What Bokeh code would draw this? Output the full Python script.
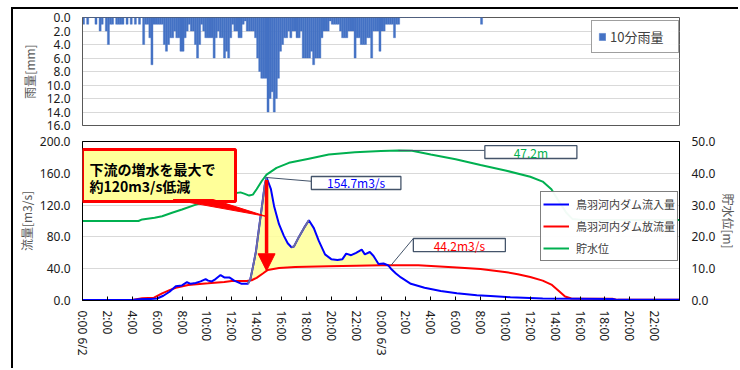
import math
import numpy as np
from bokeh.plotting import figure
from bokeh.layouts import column
from bokeh.models import (Range1d, LinearAxis, FixedTicker, NumeralTickFormatter, Legend,
                          LegendItem, Label, BoxAnnotation, Arrow, NormalHead)
from bokeh.embed import file_html
from bokeh.resources import INLINE

FONT = "Noto Sans CJK JP"
NUM_FONT = "Noto Sans"
TICK_COLOR = "#1a1a1a"
TITLE_COLOR = "#595959"
TAG_BORDER = "#44546a"

# 10-minute rainfall [mm], one value per interval starting 0:00 6/2
rain_mm = [1, 0, 1, 0, 0, 0, 1, 0, 2, 1,
           0, 2, 4, 1, 1, 0, 1, 1, 1, 1,
           0, 1, 0, 1, 0, 1, 0, 1, 0, 4,
           1, 1, 3, 7, 1, 1, 1, 1, 1, 4,
           5, 4, 3, 3, 2, 3, 3, 5, 5, 3,
           2, 1, 2, 2, 4, 6, 4, 1, 2, 3,
           3, 3, 3, 6, 3, 2, 3, 3, 6, 5,
           6, 3, 1, 2, 2, 3, 3, 1, 0.5, 2,
           2, 2, 2, 3, 6, 8, 9, 9, 9, 14,
           12, 11, 14, 12, 9, 5, 4, 3, 3, 2,
           3, 2, 2, 3, 3, 2, 6, 6, 6, 6,
           5, 7, 6, 6, 6, 3, 2, 2, 2, 0.5,
           1, 1, 1, 1, 2, 3, 3, 3, 2, 2,
           2, 6, 3, 3, 4, 4, 4, 3, 3, 6,
           2, 2, 2, 5, 2, 2, 1, 1, 1, 1,
           3, 1, 1, 0, 0, 0, 0, 0, 0, 0,
           0, 0, 0, 0, 0, 0, 0, 0, 0, 0,
           0, 0, 0, 0, 0, 0, 0, 0, 0, 0,
           0, 0, 0, 0, 0, 0, 0, 0, 0, 0,
           0, 0, 1]

# Dam inflow [m3/s] (hours from 0:00 6/2)
inflow_h = [0, 4.0, 4.5, 5.0, 5.5, 6.0, 6.5, 7.0, 7.5, 8.0, 8.4, 8.7, 9.1, 9.5, 9.9,
            10.1, 10.4, 10.7, 11.1, 11.4, 11.8, 12.2, 12.8, 13.3, 13.5, 13.7, 13.95,
            14.2, 14.5, 14.65, 14.8, 15.15, 15.4, 15.8, 16.2, 16.5, 16.8, 17.0, 17.4,
            17.8, 18.2, 18.6, 19.0, 19.5, 20.0, 20.5, 20.9, 21.2, 21.6, 22.0, 22.45,
            22.7, 23.1, 23.4, 23.8, 24.2, 24.6, 24.8, 25.2, 25.6, 26.4, 27.5, 28.8,
            30.1, 31.7, 32.8, 34.4, 37.0, 42.6, 43.0, 48.0]
inflow_q = [0.5, 0.5, 1.5, 2.0, 2.0, 2.5, 6, 11, 18, 19, 23, 21, 22, 24, 27,
            25, 24, 27, 32, 29, 29, 25, 21, 21, 27, 42, 62,
            92, 127, 145, 154.7, 140, 119, 96, 81, 72, 67, 68, 80,
            91, 101, 91, 75, 58, 52, 51, 52, 59, 57, 60, 64,
            58, 61, 56, 46, 46.5, 44, 40, 34, 29, 21, 16, 12,
            9, 6.5, 5.8, 4.2, 2.5, 2.0, 0.8, 0.8]

# Dam release [m3/s]
outflow_h = [0, 4.0, 4.8, 5.75, 6.4, 7.0, 7.5, 8.5, 10.1, 11.4, 12.0, 13.2, 13.6,
             14.0, 14.5, 14.9, 15.8, 17.1, 19.8, 22.0, 24.0, 27.0, 30.1, 32.0,
             34.1, 35.0, 36.0, 37.0, 37.7, 38.3, 38.8, 39.3, 42.6, 43.0, 48.0]
outflow_q = [0.5, 0.5, 2.7, 3.6, 9, 13, 16, 19.6, 21.6, 23.4, 24.6, 24.6, 25.5,
             28.5, 34, 38.5, 41, 42, 43, 43.6, 44.2, 44.2, 41.5, 39.5,
             35.6, 33, 29.5, 25, 20, 12, 5, 2.5, 2.2, 0.8, 0.8]

# Reservoir water level [m]
level_h = [0, 4.5, 4.8, 5.8, 6.4, 7.2, 8.0, 9.0, 10.0, 11.0, 12.0, 12.7, 13.0, 13.4,
           13.7, 14.0, 14.4, 14.8, 15.6, 16.6, 18.2, 19.8, 21.9, 24.0, 25.4, 26.5,
           28.0, 30.0, 32.0, 34.0, 36.0, 37.0, 37.7, 38.2, 38.9, 39.4, 40.0, 48.0]
level_m = [25.0, 25.0, 25.5, 26.0, 26.5, 27.6, 28.6, 30.0, 31.2, 32.5, 33.6, 34.0, 33.6, 33.0,
           33.3, 35.0, 37.5, 39.6, 41.7, 43.3, 44.6, 45.9, 46.6, 47.0, 47.2, 47.1,
           45.9, 44.4, 42.6, 40.9, 38.9, 37.4, 35.0, 31.8, 27.6, 25.6, 25.4, 25.3]

x_ticks = list(range(0, 48, 2))
x_tick_labels = ["0:00 6/2", "2:00", "4:00", "6:00", "8:00", "10:00", "12:00", "14:00",
                 "16:00", "18:00", "20:00", "22:00",
                 "0:00 6/3", "2:00", "4:00", "6:00", "8:00", "10:00", "12:00", "14:00",
                 "16:00", "18:00", "20:00", "22:00"]
rain_ticks = [0, 2, 4, 6, 8, 10, 12, 14, 16]
flow_ticks = [0, 40, 80, 120, 160, 200]
level_ticks = [0, 10, 20, 30, 40, 50]

series_names = ["鳥羽河内ダム流入量", "鳥羽河内ダム放流量", "貯水位"]
callout_lines = ["下流の増水を最大で", "約120m3/s低減"]


def style_axis(ax, label_standoff, title_standoff):
    ax.major_label_text_font = NUM_FONT
    ax.major_label_text_font_size = "12px"
    ax.major_label_text_color = TICK_COLOR
    ax.axis_label_text_font = FONT
    ax.axis_label_text_font_size = "12px"
    ax.axis_label_text_font_style = "normal"
    ax.axis_label_text_color = TITLE_COLOR
    ax.major_tick_line_color = None
    ax.minor_tick_line_color = None
    ax.major_tick_in = 0
    ax.major_tick_out = 0
    ax.minor_tick_in = 0
    ax.minor_tick_out = 0
    ax.major_label_standoff = label_standoff
    ax.axis_label_standoff = title_standoff
    ax.axis_line_color = "#000000"


# ---------------- rainfall panel ----------------
top = figure(width=727, height=125, x_range=Range1d(0, 48), y_range=Range1d(16, 0),
             output_backend="svg", toolbar_location=None,
             min_border_left=69, min_border_right=53, min_border_top=8, min_border_bottom=9)
top.xaxis.visible = False
top.xgrid.visible = False
top.ygrid.ticker = FixedTicker(ticks=rain_ticks)
top.ygrid.grid_line_color = "#d9d9d9"
top.outline_line_color = "#595959"
top.yaxis.ticker = FixedTicker(ticks=rain_ticks)
top.yaxis.formatter = NumeralTickFormatter(format="0.0")
top.yaxis.axis_label = "雨量[mm]"
style_axis(top.yaxis[0], 12, 6)
top.yaxis.axis_line_color = "#595959"

rain_x = [(i + 0.5) / 6 for i in range(len(rain_mm))]
rain_r = top.vbar(x=rain_x, top=0, bottom=rain_mm, width=1 / 6,
                  fill_color="#4472c4", line_color="#4472c4", line_width=0.4)

leg_top = Legend(items=[LegendItem(label="10分雨量", renderers=[rain_r])],
                 location=(509, 72), padding=6, margin=0, glyph_width=8, glyph_height=9,
                 label_standoff=4, label_width=62, label_text_font=FONT,
                 label_text_font_size="13px", label_text_color="#404040",
                 border_line_color="#404040", border_line_width=1)
top.add_layout(leg_top)

# ---------------- discharge / water level panel ----------------
bot = figure(width=727, height=236, x_range=Range1d(0, 48), y_range=Range1d(0, 200),
             output_backend="svg", toolbar_location=None,
             min_border_left=68, min_border_right=55, min_border_top=7, min_border_bottom=70)
bot.extra_y_ranges = {"level": Range1d(0, 50)}
bot.outline_line_color = "#000000"
bot.xgrid.visible = False
bot.ygrid.ticker = FixedTicker(ticks=flow_ticks)
bot.ygrid.grid_line_color = "#d9d9d9"

bot.yaxis.ticker = FixedTicker(ticks=flow_ticks)
bot.yaxis.formatter = NumeralTickFormatter(format="0.0")
bot.yaxis.axis_label = "流量[m3/s]"
style_axis(bot.yaxis[0], 12, 2)

right_ax = LinearAxis(y_range_name="level", ticker=FixedTicker(ticks=level_ticks),
                      formatter=NumeralTickFormatter(format="0.0"), axis_label="貯水位[m]")
style_axis(right_ax, 12, 2)
bot.add_layout(right_ax, "right")

xax = bot.xaxis[0]
xax.ticker = FixedTicker(ticks=x_ticks)
xax.major_label_overrides = {t: lab for t, lab in zip(x_ticks, x_tick_labels)}
xax.major_label_orientation = -math.pi / 2
xax.major_label_text_font = NUM_FONT
xax.major_label_text_font_size = "12px"
xax.major_label_text_color = TICK_COLOR
xax.major_label_standoff = 10
xax.major_tick_in = 4
xax.major_tick_out = 0
xax.major_tick_line_color = "#000000"
xax.minor_tick_line_color = None
xax.axis_line_color = "#000000"

# reduced-flood area between inflow and release
fine_h = np.linspace(13.0, 25.5, 800)
q_in = np.interp(fine_h, inflow_h, inflow_q)
q_out = np.interp(fine_h, outflow_h, outflow_q)
bot.varea(x=fine_h, y1=q_out, y2=np.maximum(q_in, q_out), fill_color="#ffff99", fill_alpha=0.85)

level_r = bot.line(level_h, level_m, y_range_name="level", line_color="#00b050", line_width=2)
outflow_r = bot.line(outflow_h, outflow_q, line_color="#ff0000", line_width=2)
inflow_r = bot.line(inflow_h, inflow_q, line_color="#0000ff", line_width=2)

# outline of the shaded area along the rising limbs
t_in = np.array(inflow_h)
q_arr = np.array(inflow_q)
for a, b in [(13.3, 14.8), (16.8, 18.2)]:
    m = (t_in >= a) & (t_in <= b)
    bot.line(t_in[m], q_arr[m], line_color="#70709a", line_width=1.8)

leg_bot = Legend(items=[LegendItem(label=series_names[0], renderers=[inflow_r]),
                        LegendItem(label=series_names[1], renderers=[outflow_r]),
                        LegendItem(label=series_names[2], renderers=[level_r])],
                 location=(458, 39), padding=2, margin=0, spacing=2, glyph_width=26,
                 glyph_height=20, label_standoff=7, label_text_font=FONT,
                 label_text_font_size="11px", label_text_color="#404040",
                 border_line_color="#000000", border_line_width=1)
bot.add_layout(leg_bot)

# value tags
i_peak = int(np.argmax(inflow_q))
peak_h, peak_q = inflow_h[i_peak], inflow_q[i_peak]
out_max = max(outflow_q)
out_max_h = 24.8
lvl_max = max(level_m)
lvl_max_h = level_h[int(np.argmax(level_m))]


def value_tag(text, color, left, right, bottom, top_, anchor, corner, range_name="default"):
    bot.line([anchor[0], corner[0]], [anchor[1], corner[1]], line_color=TAG_BORDER,
             line_width=1, y_range_name=range_name)
    bot.add_layout(BoxAnnotation(left=left, right=right, bottom=bottom, top=top_,
                                 y_range_name=range_name, fill_color="white", fill_alpha=1,
                                 line_color=TAG_BORDER, line_width=1.3, line_alpha=1))
    bot.add_layout(Label(x=(left + right) / 2, y=(bottom + top_) / 2, text=text,
                         y_range_name=range_name, text_align="center",
                         text_baseline="middle", text_font=FONT, text_font_size="12px",
                         text_color=color))


value_tag(f"{peak_q:.1f}m3/s", "#0000ff", 18.4, 25.6, 139.6, 156.0,
          (peak_h, peak_q), (18.4, 150.0))
value_tag(f"{out_max:.1f}m3/s", "#ff0000", 26.6, 34.0, 61.6, 78.0,
          (out_max_h, out_max), (26.6, 78.0))
value_tag(f"{lvl_max:.1f}m", "#00b050", 32.35, 39.75, 44.65, 48.7,
          (lvl_max_h, lvl_max), (32.35, lvl_max), range_name="level")

# reduction arrow from inflow peak down to the release at that moment
rel_at_peak = float(np.interp(peak_h, outflow_h, outflow_q))
bot.add_layout(Arrow(end=NormalHead(size=17, fill_color="#ff0000", line_color="#ff0000"),
                     x_start=peak_h, y_start=peak_q - 3, x_end=peak_h, y_end=rel_at_peak,
                     line_color="#ff0000", line_width=3.5))

# callout
bot.add_layout(BoxAnnotation(left=0.0, right=12.3, bottom=124.5, top=190.0,
                             fill_color="#ffff99", fill_alpha=1, line_color="#ff0000",
                             line_width=3, line_alpha=1))
pointer = bot.patch([7.3, 10.5, peak_h], [127.0, 127.0, 105.7], fill_color="#ff0000",
                    line_color="#ff0000", line_width=1)
pointer.level = "overlay"
for txt, yv in zip(callout_lines, [166.0, 143.4]):
    bot.add_layout(Label(x=0.56, y=yv, text=txt, text_align="left", text_baseline="middle",
                         text_font=FONT, text_font_size="14px", text_font_style="bold",
                         text_color="#000000"))

# outer frame drawn as a shadow so it does not shift the panels
layout = column(top, bot, margin=(9, 0, 0, 13), spacing=0,
                styles={"box-shadow": "-2px -2px 0 0 #000000"})

open("out.html", "w").write(file_html(layout, INLINE))
